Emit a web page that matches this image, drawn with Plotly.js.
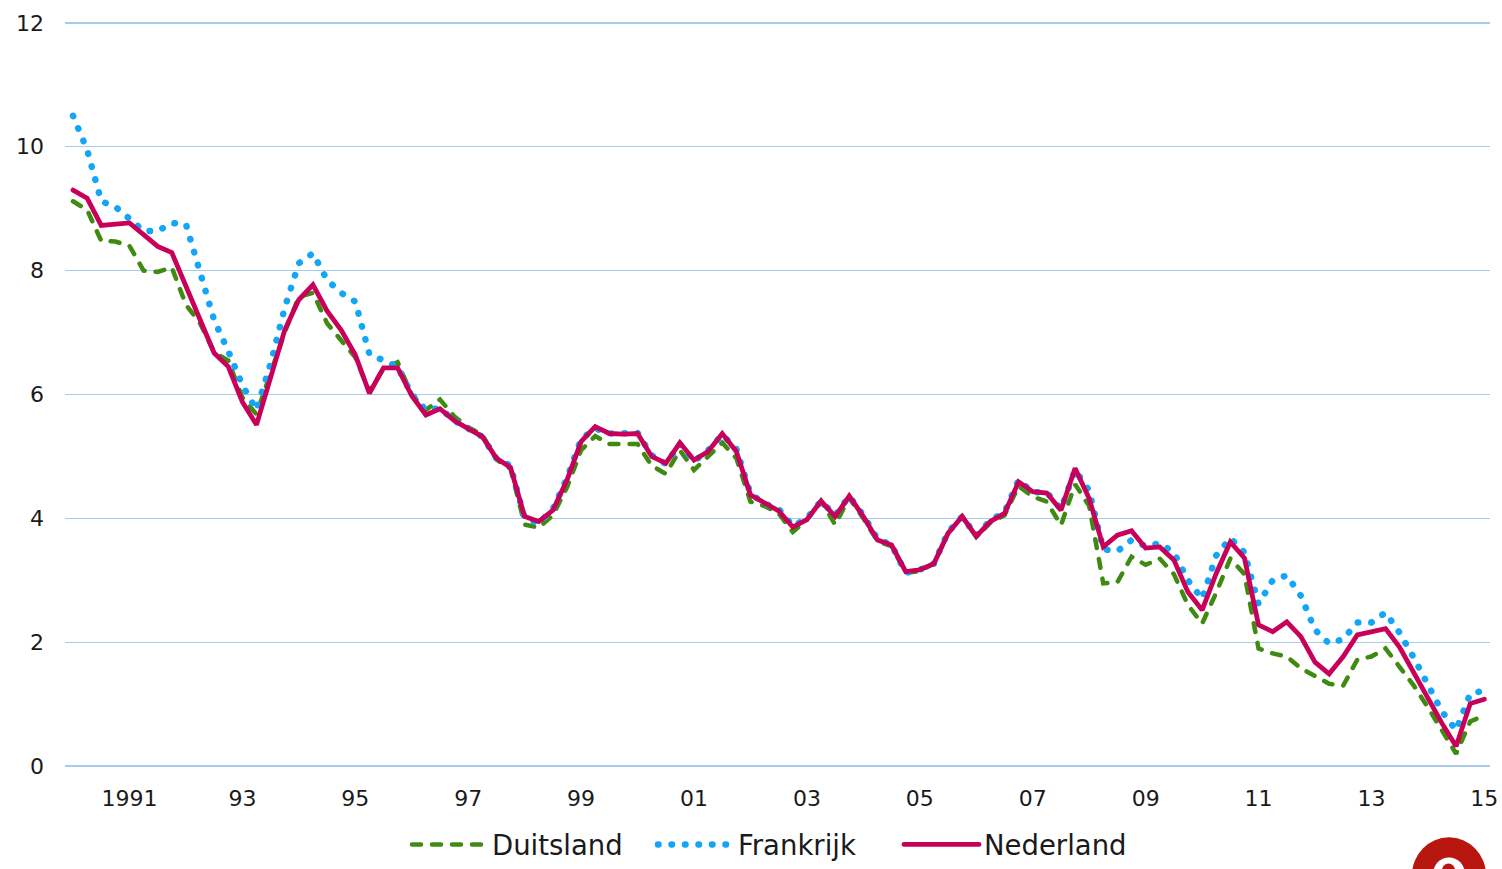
<!DOCTYPE html>
<html>
<head>
<meta charset="utf-8">
<script src="https://cdn.plot.ly/plotly-3.0.1.min.js"></script>
<style>
  html, body { margin: 0; padding: 0; background: #ffffff; }
  #chart { width: 1502px; height: 869px; }
  .js-line { stroke-linecap: round; }
</style>
</head>
<body>
<div id="chart"></div>
<script>
// Quarterly series, 1990 Q1 .. 2015 Q1 (101 quarters)
const startYear = 1990;
const seriesNames = ['Duitsland', 'Frankrijk', 'Nederland'];

const duitsland = [
  9.12, 8.98, 8.48, 8.47, 8.40, 8.00, 7.98, 8.05, 7.45, 7.15,
  6.68, 6.55, 5.95, 5.68, 6.35, 7.00, 7.58, 7.64, 7.15, 6.87,
  6.60, 6.05, 6.42, 6.52, 6.00, 5.75, 5.92, 5.65, 5.47, 5.35,
  4.95, 4.80, 3.90, 3.85, 4.05, 4.50, 5.10, 5.33, 5.20, 5.20,
  5.20, 4.85, 4.72, 5.10, 4.78, 5.00, 5.22, 4.97, 4.27, 4.20,
  4.08, 3.78, 3.98, 4.28, 3.90, 4.33, 4.00, 3.63, 3.55, 3.12,
  3.15, 3.27, 3.76, 4.03, 3.70, 3.93, 4.05, 4.52, 4.35, 4.27,
  3.89, 4.55, 4.20, 2.95, 2.97, 3.38, 3.25, 3.35, 3.10, 2.60,
  2.30, 2.80, 3.35, 3.10, 1.90, 1.82, 1.77, 1.58, 1.45, 1.33,
  1.30, 1.72, 1.77, 1.90, 1.60, 1.30, 0.95, 0.58, 0.20, 0.72,
  0.82
];

const frankrijk = [
  10.50, 9.95, 9.12, 9.03, 8.84, 8.64, 8.64, 8.77, 8.75, 7.97,
  7.20, 6.70, 6.15, 5.75, 6.50, 7.40, 8.12, 8.28, 7.85, 7.64,
  7.50, 6.65, 6.55, 6.45, 6.00, 5.75, 5.78, 5.58, 5.45, 5.32,
  4.97, 4.85, 4.00, 3.92, 4.15, 4.65, 5.28, 5.45, 5.37, 5.38,
  5.38, 5.02, 4.88, 5.20, 4.92, 5.10, 5.35, 5.12, 4.40, 4.24,
  4.15, 3.88, 4.00, 4.28, 4.05, 4.36, 4.05, 3.67, 3.57, 3.12,
  3.17, 3.27, 3.78, 4.03, 3.72, 3.97, 4.10, 4.62, 4.42, 4.42,
  4.15, 4.78, 4.45, 3.50, 3.47, 3.65, 3.55, 3.60, 3.45, 3.00,
  2.70, 3.40, 3.68, 3.45, 2.62, 3.00, 3.08, 2.75, 2.20, 1.98,
  2.05, 2.32, 2.32, 2.48, 2.15, 1.75, 1.30, 0.88, 0.58, 1.17,
  1.22
];

const nederland = [
  9.30, 9.17, 8.73, 8.75, 8.77, 8.58, 8.39, 8.29, 7.75, 7.20,
  6.67, 6.45, 5.88, 5.51, 6.30, 7.04, 7.53, 7.77, 7.35, 7.04,
  6.64, 6.02, 6.43, 6.43, 5.98, 5.67, 5.77, 5.58, 5.45, 5.32,
  4.97, 4.82, 4.03, 3.95, 4.13, 4.62, 5.24, 5.48, 5.37, 5.36,
  5.37, 5.00, 4.89, 5.22, 4.94, 5.08, 5.37, 5.08, 4.38, 4.24,
  4.12, 3.86, 3.98, 4.28, 4.03, 4.36, 4.03, 3.65, 3.57, 3.14,
  3.17, 3.27, 3.76, 4.03, 3.71, 3.95, 4.08, 4.59, 4.43, 4.41,
  4.13, 4.81, 4.32, 3.54, 3.73, 3.80, 3.52, 3.54, 3.33, 2.81,
  2.52, 3.11, 3.62, 3.36, 2.28, 2.17, 2.33, 2.09, 1.68, 1.49,
  1.77, 2.12, 2.17, 2.22, 1.92, 1.50, 1.07, 0.69, 0.32, 1.01,
  1.08
];

const tickYears = [1991, 1993, 1995, 1997, 1999, 2001, 2003, 2005, 2007, 2009, 2011, 2013, 2015];
const tickLabels = ['1991', '93', '95', '97', '99', '01', '03', '05', '07', '09', '11', '13', '15'];
const yTicks = [0, 2, 4, 6, 8, 10, 12];

const xs = duitsland.map((_, i) => startYear + i / 4);

const FONT = 'DejaVu Sans, Verdana, sans-serif';

const traces = [
  {
    x: xs, y: duitsland, name: seriesNames[0], type: 'scatter', mode: 'lines',
    line: { color: '#3f8b12', width: 4.5, dash: '9px,11px' }
  },
  {
    x: xs, y: frankrijk, name: seriesNames[1], type: 'scatter', mode: 'lines',
    line: { color: '#14a6f6', width: 6.5, dash: '0.5px,13px' }
  },
  {
    x: xs, y: nederland, name: seriesNames[2], type: 'scatter', mode: 'lines',
    line: { color: '#c8005a', width: 4.8 }
  }
];

const layout = {
  width: 1502, height: 869,
  paper_bgcolor: '#ffffff', plot_bgcolor: '#ffffff',
  margin: { l: 65, r: 12, t: 21, b: 101, autoexpand: false },
  font: { family: FONT, color: '#1a1a1a', size: 22 },
  showlegend: true,
  legend: {
    orientation: 'h', xref: 'container', yref: 'container',
    x: 407 / 1502, xanchor: 'left', y: -0.005, yanchor: 'bottom',
    font: { family: FONT, size: 27.5, color: '#1a1a1a' },
    itemwidth: 75, entrywidth: 156, entrywidthmode: 'pixels',
    traceorder: 'normal', bgcolor: 'rgba(0,0,0,0)'
  },
  xaxis: {
    range: [1989.858, 2015.1], tickmode: 'array', tickvals: tickYears, ticktext: tickLabels,
    showgrid: false, zeroline: false, showline: false, ticks: '',
    ticklabelstandoff: 15, tickfont: { family: FONT, size: 22, color: '#1a1a1a' },
    fixedrange: true
  },
  yaxis: {
    range: [-0.03, 12.03], tickmode: 'array', tickvals: yTicks,
    showgrid: true, gridcolor: '#a6cce9', gridwidth: 1.3,
    zeroline: false, showline: false, ticks: '',
    ticklabelstandoff: 20, tickfont: { family: FONT, size: 22, color: '#1a1a1a' },
    fixedrange: true
  },
  shapes: [
    { type: 'circle', xref: 'paper', yref: 'paper',
      x0: (1412 - 65) / 1425, x1: (1486 - 65) / 1425,
      y0: (766 - 910) / 743, y1: (766 - 835) / 743,
      fillcolor: '#b8170f', line: { width: 0 }, layer: 'above' },
    { type: 'circle', xref: 'paper', yref: 'paper',
      x0: (1433 - 65) / 1425, x1: (1465 - 65) / 1425,
      y0: (766 - 888) / 743, y1: (766 - 855) / 743,
      fillcolor: '#ffffff', line: { width: 0 }, layer: 'above' },
    { type: 'circle', xref: 'paper', yref: 'paper',
      x0: (1442 - 65) / 1425, x1: (1455 - 65) / 1425,
      y0: (766 - 874) / 743, y1: (766 - 861) / 743,
      fillcolor: '#b8170f', line: { width: 0 }, layer: 'above' }
  ]
};

Plotly.newPlot('chart', traces, layout, { displayModeBar: false, staticPlot: true });
</script>
</body>
</html>
